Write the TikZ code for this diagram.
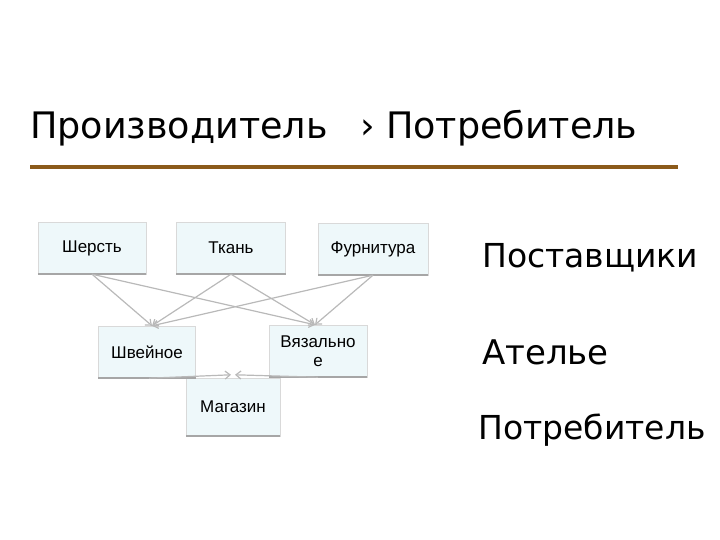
\documentclass[tikz,border=0pt]{standalone}
\usepackage{fontspec}
\setmainfont{Liberation Sans}
\newfontfamily\comic{DejaVu Sans}
\usetikzlibrary{arrows.meta}
\definecolor{boxfill}{HTML}{EEF8FA}
\definecolor{brown1}{HTML}{8B5A1A}
\tikzset{
  box/.style={draw=gray!30, fill=boxfill, minimum width=#1, minimum height=52pt, font=\fontsize{17}{19}\selectfont, align=center, inner sep=2pt},
  shadowline/.style={draw=gray!70, line width=1.5pt},
  conn/.style={draw=gray!55, line width=1.2pt, -{Straight Barb[length=5pt,width=8pt]}},
  big/.style={font=\comic\fontsize{33}{36}\selectfont, anchor=west, inner sep=0pt},
}
\begin{document}
\begin{tikzpicture}[x=1pt,y=-1pt]
\useasboundingbox (0,0) rectangle (720,540);
\node[big, font=\comic\fontsize{36.5}{40}\selectfont] (title) at (30,128) {Производитель\hspace{0.9em}›\hspace{0.3em}Потребитель};
\draw[brown1, line width=4pt] (30,167) -- (678,167);
\node[box=108pt] (sh) at (92,248) {Шерсть};
\node[box=109pt] (tk) at (231,248) {Ткань};
\node[box=110pt] (fu) at (373,249) {Фурнитура};
\node[box=97pt] (shv) at (147,352) {Швейное};
\node[box=98pt] (vz) at (318,351) {Вязально\\е};
\node[box=94pt, minimum height=58pt] (mg) at (233,407) {Магазин};
\foreach \n in {sh,tk,fu,shv,vz,mg}{\draw[shadowline] (\n.south west) -- (\n.south east);}
\coordinate (shvT) at ([xshift=5pt]shv.north);
\coordinate (vzT) at ([xshift=-3pt]vz.north);
\foreach \s in {sh,tk,fu}{
  \draw[conn] (\s.south) -- (shvT);
  \draw[conn] (\s.south) -- (vzT);
}
\draw[conn] ([xshift=2pt]shv.south) -- ([xshift=-2pt,yshift=3pt]mg.north);
\draw[conn] (vz.south) -- ([xshift=2pt,yshift=3pt]mg.north);
\node[big] (p1) at (482,258) {Поставщики};
\node[big, font=\comic\fontsize{34}{36}\selectfont] (p2) at (482,352) {Ателье};
\node[big, font=\comic\fontsize{33}{36}\selectfont] (p3) at (478,430) {Потребитель};
\end{tikzpicture}
\end{document}
